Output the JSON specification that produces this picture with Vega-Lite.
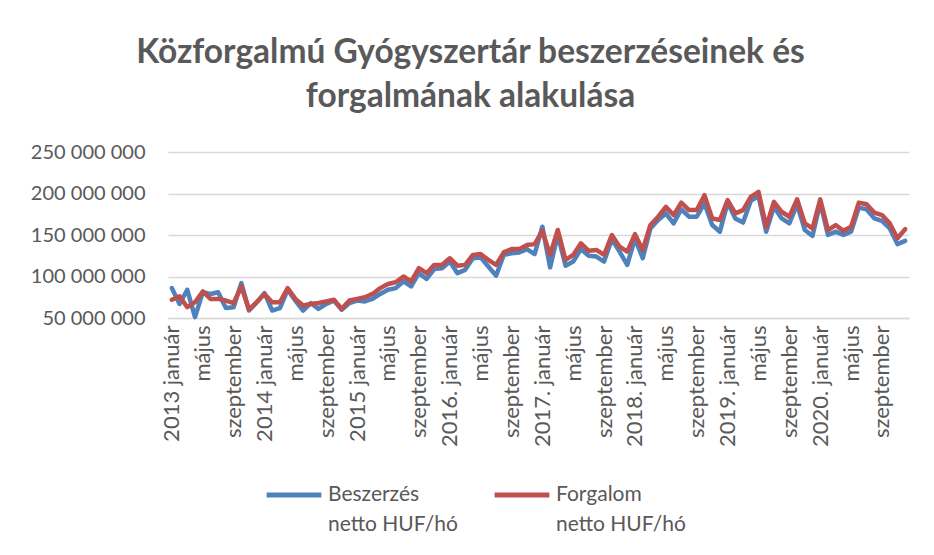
{
  "$schema": "https://vega.github.io/schema/vega-lite/v6.json",
  "width": 741,
  "height": 166,
  "autosize": {"type": "none"},
  "padding": {"top": 152, "left": 168, "right": 25, "bottom": 237},
  "background": "white",
  "title": {
    "text": ["Közforgalmú Gyógyszertár beszerzéseinek és", "forgalmának alakulása"],
    "font": "Lato",
    "fontWeight": "bold",
    "fontSize": 33.5,
    "color": "#595959",
    "lineHeight": 44,
    "anchor": "middle",
    "frame": "group",
    "dx": -68,
    "offset": 28
  },
  "data": {
    "values": [
      {"m":"2013-01","Beszerzés":86000000,"Forgalom":72000000},
      {"m":"2013-02","Beszerzés":67000000,"Forgalom":76000000},
      {"m":"2013-03","Beszerzés":84000000,"Forgalom":63000000},
      {"m":"2013-04","Beszerzés":51000000,"Forgalom":69000000},
      {"m":"2013-05","Beszerzés":81000000,"Forgalom":82000000},
      {"m":"2013-06","Beszerzés":79000000,"Forgalom":73000000},
      {"m":"2013-07","Beszerzés":81000000,"Forgalom":73000000},
      {"m":"2013-08","Beszerzés":62000000,"Forgalom":71000000},
      {"m":"2013-09","Beszerzés":63000000,"Forgalom":68000000},
      {"m":"2013-10","Beszerzés":92000000,"Forgalom":88000000},
      {"m":"2013-11","Beszerzés":59000000,"Forgalom":60000000},
      {"m":"2013-12","Beszerzés":69000000,"Forgalom":69000000},
      {"m":"2014-01","Beszerzés":80000000,"Forgalom":79000000},
      {"m":"2014-02","Beszerzés":59000000,"Forgalom":69000000},
      {"m":"2014-03","Beszerzés":62000000,"Forgalom":69000000},
      {"m":"2014-04","Beszerzés":84000000,"Forgalom":86000000},
      {"m":"2014-05","Beszerzés":71000000,"Forgalom":73000000},
      {"m":"2014-06","Beszerzés":59000000,"Forgalom":65000000},
      {"m":"2014-07","Beszerzés":68000000,"Forgalom":67000000},
      {"m":"2014-08","Beszerzés":61000000,"Forgalom":68000000},
      {"m":"2014-09","Beszerzés":67000000,"Forgalom":70000000},
      {"m":"2014-10","Beszerzés":71000000,"Forgalom":72000000},
      {"m":"2014-11","Beszerzés":60000000,"Forgalom":61000000},
      {"m":"2014-12","Beszerzés":68000000,"Forgalom":71000000},
      {"m":"2015-01","Beszerzés":71000000,"Forgalom":73000000},
      {"m":"2015-02","Beszerzés":70000000,"Forgalom":75000000},
      {"m":"2015-03","Beszerzés":73000000,"Forgalom":79000000},
      {"m":"2015-04","Beszerzés":79000000,"Forgalom":86000000},
      {"m":"2015-05","Beszerzés":84000000,"Forgalom":91000000},
      {"m":"2015-06","Beszerzés":86000000,"Forgalom":93000000},
      {"m":"2015-07","Beszerzés":94000000,"Forgalom":100000000},
      {"m":"2015-08","Beszerzés":88000000,"Forgalom":94000000},
      {"m":"2015-09","Beszerzés":104000000,"Forgalom":110000000},
      {"m":"2015-10","Beszerzés":97000000,"Forgalom":104000000},
      {"m":"2015-11","Beszerzés":109000000,"Forgalom":114000000},
      {"m":"2015-12","Beszerzés":110000000,"Forgalom":114000000},
      {"m":"2016-01","Beszerzés":118000000,"Forgalom":122000000},
      {"m":"2016-02","Beszerzés":104000000,"Forgalom":113000000},
      {"m":"2016-03","Beszerzés":108000000,"Forgalom":114000000},
      {"m":"2016-04","Beszerzés":122000000,"Forgalom":126000000},
      {"m":"2016-05","Beszerzés":123000000,"Forgalom":127000000},
      {"m":"2016-06","Beszerzés":112000000,"Forgalom":120000000},
      {"m":"2016-07","Beszerzés":101000000,"Forgalom":114000000},
      {"m":"2016-08","Beszerzés":126000000,"Forgalom":129000000},
      {"m":"2016-09","Beszerzés":128000000,"Forgalom":133000000},
      {"m":"2016-10","Beszerzés":129000000,"Forgalom":133000000},
      {"m":"2016-11","Beszerzés":133000000,"Forgalom":138000000},
      {"m":"2016-12","Beszerzés":127000000,"Forgalom":139000000},
      {"m":"2017-01","Beszerzés":160000000,"Forgalom":155000000},
      {"m":"2017-02","Beszerzés":111000000,"Forgalom":126000000},
      {"m":"2017-03","Beszerzés":150000000,"Forgalom":156000000},
      {"m":"2017-04","Beszerzés":113000000,"Forgalom":120000000},
      {"m":"2017-05","Beszerzés":118000000,"Forgalom":126000000},
      {"m":"2017-06","Beszerzés":133000000,"Forgalom":140000000},
      {"m":"2017-07","Beszerzés":125000000,"Forgalom":131000000},
      {"m":"2017-08","Beszerzés":124000000,"Forgalom":132000000},
      {"m":"2017-09","Beszerzés":118000000,"Forgalom":126000000},
      {"m":"2017-10","Beszerzés":145000000,"Forgalom":150000000},
      {"m":"2017-11","Beszerzés":130000000,"Forgalom":136000000},
      {"m":"2017-12","Beszerzés":114000000,"Forgalom":130000000},
      {"m":"2018-01","Beszerzés":146000000,"Forgalom":151000000},
      {"m":"2018-02","Beszerzés":122000000,"Forgalom":132000000},
      {"m":"2018-03","Beszerzés":158000000,"Forgalom":162000000},
      {"m":"2018-04","Beszerzés":168000000,"Forgalom":172000000},
      {"m":"2018-05","Beszerzés":176000000,"Forgalom":184000000},
      {"m":"2018-06","Beszerzés":164000000,"Forgalom":174000000},
      {"m":"2018-07","Beszerzés":181000000,"Forgalom":189000000},
      {"m":"2018-08","Beszerzés":172000000,"Forgalom":180000000},
      {"m":"2018-09","Beszerzés":172000000,"Forgalom":180000000},
      {"m":"2018-10","Beszerzés":188000000,"Forgalom":198000000},
      {"m":"2018-11","Beszerzés":162000000,"Forgalom":170000000},
      {"m":"2018-12","Beszerzés":154000000,"Forgalom":168000000},
      {"m":"2019-01","Beszerzés":189000000,"Forgalom":192000000},
      {"m":"2019-02","Beszerzés":170000000,"Forgalom":176000000},
      {"m":"2019-03","Beszerzés":165000000,"Forgalom":180000000},
      {"m":"2019-04","Beszerzés":191000000,"Forgalom":196000000},
      {"m":"2019-05","Beszerzés":197000000,"Forgalom":202000000},
      {"m":"2019-06","Beszerzés":154000000,"Forgalom":160000000},
      {"m":"2019-07","Beszerzés":184000000,"Forgalom":190000000},
      {"m":"2019-08","Beszerzés":170000000,"Forgalom":178000000},
      {"m":"2019-09","Beszerzés":164000000,"Forgalom":172000000},
      {"m":"2019-10","Beszerzés":187000000,"Forgalom":193000000},
      {"m":"2019-11","Beszerzés":156000000,"Forgalom":164000000},
      {"m":"2019-12","Beszerzés":149000000,"Forgalom":158000000},
      {"m":"2020-01","Beszerzés":189000000,"Forgalom":193000000},
      {"m":"2020-02","Beszerzés":150000000,"Forgalom":156000000},
      {"m":"2020-03","Beszerzés":154000000,"Forgalom":162000000},
      {"m":"2020-04","Beszerzés":150000000,"Forgalom":155000000},
      {"m":"2020-05","Beszerzés":154000000,"Forgalom":160000000},
      {"m":"2020-06","Beszerzés":183000000,"Forgalom":189000000},
      {"m":"2020-07","Beszerzés":181000000,"Forgalom":187000000},
      {"m":"2020-08","Beszerzés":170000000,"Forgalom":177000000},
      {"m":"2020-09","Beszerzés":167000000,"Forgalom":174000000},
      {"m":"2020-10","Beszerzés":158000000,"Forgalom":164000000},
      {"m":"2020-11","Beszerzés":139000000,"Forgalom":146000000},
      {"m":"2020-12","Beszerzés":143000000,"Forgalom":157000000}
    ]
  },
  "transform": [{"fold": ["Beszerzés", "Forgalom"], "as": ["s", "v"]}],
  "mark": {"type": "line", "strokeWidth": 4.5, "strokeCap": "round", "strokeJoin": "round", "clip": false},
  "encoding": {
    "x": {
      "field": "m",
      "type": "ordinal",
      "sort": null,
      "scale": {"type": "point", "padding": 0.5},
      "axis": {
        "title": null,
        "values": ["2013-01","2013-05","2013-09","2014-01","2014-05","2014-09","2015-01","2015-05","2015-09","2016-01","2016-05","2016-09","2017-01","2017-05","2017-09","2018-01","2018-05","2018-09","2019-01","2019-05","2019-09","2020-01","2020-05","2020-09"],
        "labelExpr": "slice(datum.value,5,7) == '01' ? slice(datum.value,0,4) + (toNumber(slice(datum.value,0,4)) >= 2016 ? '. ' : ' ') + 'január' : (slice(datum.value,5,7) == '05' ? 'május' : 'szeptember')",
        "labelAngle": -90,
        "labelAlign": "right",
        "labelBaseline": "middle",
        "labelPadding": 7,
        "labelFont": "Lato",
        "labelFontSize": 22,
        "labelColor": "#595959",
        "ticks": false,
        "grid": false,
        "domain": true,
        "domainColor": "#d9d9d9",
        "domainWidth": 1.5,
        "labelOverlap": false
      }
    },
    "y": {
      "field": "v",
      "type": "quantitative",
      "scale": {"domain": [50000000, 250000000], "nice": false, "zero": false},
      "axis": {
        "title": null,
        "values": [50000000, 100000000, 150000000, 200000000, 250000000],
        "labelExpr": "replace(format(datum.value, ','), regexp(',', 'g'), ' ')",
        "labelFont": "Lato",
        "labelFontSize": 20,
        "labelColor": "#595959",
        "labelPadding": 23,
        "ticks": false,
        "domain": false,
        "grid": true,
        "gridColor": "#d9d9d9",
        "gridWidth": 1.5
      }
    },
    "color": {
      "field": "s",
      "type": "nominal",
      "scale": {"domain": ["Beszerzés", "Forgalom"], "range": ["#4F81BD", "#C0504D"]},
      "legend": {
        "title": null,
        "orient": "none",
        "direction": "horizontal",
        "legendX": 96,
        "legendY": 313,
        "symbolType": "stroke",
        "symbolSize": 3000,
        "symbolStrokeWidth": 5,
        "labelExpr": "[datum.label, 'netto HUF/hó']",
        "labelFont": "Lato",
        "labelFontSize": 21,
        "labelColor": "#595959",
        "labelBaseline": "middle",
        "labelOffset": 4,
        "labelLimit": 300,
        "columnPadding": 26
      }
    }
  },
  "config": {
    "view": {"stroke": null},
    "font": "Lato",
    "style": {"guide-label": {"lineHeight": 30}}
  }
}
